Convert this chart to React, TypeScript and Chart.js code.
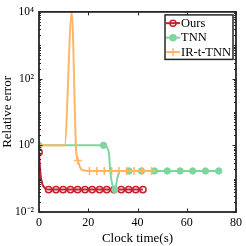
import React, { useEffect, useRef } from "react";
import { Chart, registerables } from "chart.js";

Chart.register(...registerables);

// ---- data ----
const seriesNames = ["Ours", "TNN", "IR-t-TNN"];

const oursX = [0, 0.25, 0.7, 1.4, 2.4, 3.9, 6.9, 9.8, 12.8, 15.7, 18.7, 21.6, 24.6, 27.5, 30.5, 33.4, 36.4, 39.3, 42.2];
const oursY = [0.62, 0.3, 0.12, 0.068, 0.052, 0.047, 0.047, 0.047, 0.047, 0.047, 0.047, 0.047, 0.047, 0.047, 0.047, 0.047, 0.047, 0.047, 0.047];
const oursMarkerIdx = [0, 5, 6, 7, 8, 9, 10, 11, 12, 13, 14, 15, 16, 17, 18];

const tnnX = [0, 26.2, 28.3, 29.0, 30.8, 31.9, 32.8, 36.5, 41.6, 46.9, 52.1, 57.3, 62.4, 67.6, 73.0];
const tnnY = [1.0, 1.0, 0.65, 0.15, 0.047, 0.11, 0.17, 0.17, 0.17, 0.17, 0.17, 0.17, 0.17, 0.17, 0.17];
const tnnMarkerIdx = [0, 1, 4, 7, 8, 9, 10, 11, 12, 13, 14];

const irX = [0, 10.4, 13.3, 15.1, 15.8, 16.8, 18.3, 20.5, 23.5, 26.5, 29.5, 32.5, 35.6, 38.6, 41.9, 45.7];
const irY = [1.0, 1.0, 9500, 0.65, 0.35, 0.21, 0.175, 0.17, 0.17, 0.17, 0.17, 0.17, 0.17, 0.17, 0.17, 0.17];
const irMarkerIdx = [0, 4, 7, 8, 9, 10, 11, 12, 13, 14, 15];

const xTicks = [0, 20, 40, 60, 80];
const yTicks = [0.01, 1, 100, 10000];
const yTickLabels = ["10⁻²", "10⁰", "10²", "10⁴"];
const xTitle = "Clock time(s)";
const yTitle = "Relative error";

const RED = "rgb(200,32,42)";
const GREEN = "rgb(128,212,160)";
const ORANGE = "rgb(255,182,102)";
const AXIS = "#262626";
const FONT = "'Liberation Serif', 'Times New Roman', serif";

function pts(xs: number[], ys: number[]) {
  return xs.map((x, i) => ({ x, y: ys[i] }));
}
function radii(n: number, idx: number[], r: number) {
  const a = new Array(n).fill(0);
  idx.forEach((i) => (a[i] = r));
  return a;
}

const framePlugin = {
  id: "frame",
  afterDatasetsDraw(chart: any) {
    const { ctx, chartArea: a, scales } = chart;
    const xs = scales.x;
    const ys = scales.y;
    ctx.save();
    ctx.strokeStyle = AXIS;
    ctx.lineWidth = 1;
    ctx.beginPath();
    xTicks.forEach((v) => {
      const px = Math.round(xs.getPixelForValue(v)) + 0.5;
      ctx.moveTo(px, a.bottom);
      ctx.lineTo(px, a.bottom - 3.5);
      ctx.moveTo(px, a.top);
      ctx.lineTo(px, a.top + 3.5);
    });
    for (let d = -2; d < 4; d++) {
      for (let k = 1; k <= 9; k++) {
        const v = k * Math.pow(10, d);
        const major = yTicks.some((t) => Math.abs(t - v) < 1e-9 * Math.max(1, v));
        const len = major ? 3.5 : 2;
        const py = Math.round(ys.getPixelForValue(v)) + 0.5;
        ctx.moveTo(a.left, py);
        ctx.lineTo(a.left + len, py);
        ctx.moveTo(a.right, py);
        ctx.lineTo(a.right - len, py);
      }
    }
    ctx.stroke();
    ctx.lineWidth = 1.8;
    ctx.strokeRect(a.left, a.top, a.right - a.left, a.bottom - a.top);
    ctx.restore();
  },
};

const legendPlugin = {
  id: "boxLegend",
  afterDraw(chart: any) {
    const { ctx, chartArea: a } = chart;
    ctx.save();
    ctx.font = `12.5px ${FONT}`;
    const labels = chart.data.datasets.map((d: any) => d.label);
    const textW = Math.max(...labels.map((t: string) => ctx.measureText(t).width));
    const sample = 14;
    const w = 1 + sample + 1 + textW + 2;
    const rowH = 14.5;
    const h = rowH * labels.length + 1;
    const right = a.right - 3;
    const left = right - w;
    const top = a.top + 3;
    ctx.fillStyle = "#fff";
    ctx.fillRect(left, top, w, h);
    chart.data.datasets.forEach((d: any, i: number) => {
      const cy = top + 1 + rowH * (i + 0.5);
      const x0 = left + 1;
      ctx.strokeStyle = d.borderColor;
      ctx.lineWidth = 2;
      ctx.beginPath();
      ctx.moveTo(x0, cy);
      ctx.lineTo(x0 + sample, cy);
      ctx.stroke();
      const cx = x0 + sample / 2;
      ctx.lineWidth = 1.5;
      if (d.pointStyle === "cross") {
        ctx.beginPath();
        ctx.moveTo(cx - 4, cy);
        ctx.lineTo(cx + 4, cy);
        ctx.moveTo(cx, cy - 4);
        ctx.lineTo(cx, cy + 4);
        ctx.stroke();
      } else {
        ctx.beginPath();
        ctx.arc(cx, cy, 3, 0, Math.PI * 2);
        if (d.pointBackgroundColor && d.pointBackgroundColor !== "rgba(0,0,0,0)") {
          ctx.fillStyle = d.pointBackgroundColor;
          ctx.fill();
        }
        ctx.stroke();
      }
      ctx.fillStyle = "#000";
      ctx.textBaseline = "middle";
      ctx.textAlign = "left";
      ctx.fillText(d.label, x0 + sample + 1, cy + 0.5);
    });
    ctx.strokeStyle = AXIS;
    ctx.lineWidth = 1.5;
    ctx.strokeRect(left, top, w, h);
    ctx.restore();
  },
};

export default function App() {
  const ref = useRef<HTMLCanvasElement | null>(null);
  useEffect(() => {
    if (!ref.current) return;
    const chart = new Chart(ref.current, {
      type: "line",
      data: {
        datasets: [
          {
            label: seriesNames[0],
            data: pts(oursX, oursY),
            borderColor: RED,
            borderWidth: 2,
            pointStyle: "circle",
            pointRadius: radii(oursX.length, oursMarkerIdx, 3.2),
            pointBorderWidth: 1.5,
            pointBorderColor: RED,
            pointBackgroundColor: "rgba(0,0,0,0)",
            cubicInterpolationMode: "monotone",
            order: 3,
          },
          {
            label: seriesNames[1],
            data: pts(tnnX, tnnY),
            borderColor: GREEN,
            borderWidth: 2,
            pointStyle: "circle",
            pointRadius: radii(tnnX.length, tnnMarkerIdx, 3.2),
            pointBorderWidth: 1,
            pointBorderColor: GREEN,
            pointBackgroundColor: GREEN,
            cubicInterpolationMode: "monotone",
            order: 2,
          },
          {
            label: seriesNames[2],
            data: pts(irX, irY),
            borderColor: ORANGE,
            borderWidth: 2,
            pointStyle: "cross",
            pointRadius: radii(irX.length, irMarkerIdx, 4),
            pointBorderWidth: 1.5,
            pointBorderColor: ORANGE,
            pointBackgroundColor: ORANGE,
            cubicInterpolationMode: "monotone",
            order: 1,
          },
        ],
      },
      options: {
        responsive: false,
        animation: false,
        devicePixelRatio: 1,
        layout: { padding: { left: 0, right: 8, top: 7, bottom: 0 } },
        plugins: { legend: { display: false }, tooltip: { enabled: false } },
        scales: {
          x: {
            type: "linear",
            min: 0,
            max: 80,
            grid: { display: false, drawTicks: false },
            border: { display: false },
            afterBuildTicks: (s: any) => {
              s.ticks = xTicks.map((v) => ({ value: v }));
            },
            afterFit: (s: any) => {
              s.height = 34;
            },
            ticks: {
              color: "#000",
              font: { family: FONT, size: 12 },
              padding: 4,
              maxRotation: 0,
              autoSkip: false,
            },
            title: {
              display: true,
              text: xTitle,
              color: "#000",
              font: { family: FONT, size: 13 },
              padding: { top: 0, bottom: 0 },
            },
          },
          y: {
            type: "logarithmic",
            min: 0.01,
            max: 10000,
            grid: { display: false, drawTicks: false },
            border: { display: false },
            afterBuildTicks: (s: any) => {
              s.ticks = yTicks.map((v) => ({ value: v }));
            },
            afterFit: (s: any) => {
              s.width = 39;
            },
            ticks: {
              color: "#000",
              font: { family: FONT, size: 11.5 },
              padding: 5,
              autoSkip: false,
              callback: (v: any) => {
                const i = yTicks.findIndex((t) => Math.abs(t - Number(v)) < 1e-9 * Math.max(1, t));
                return i >= 0 ? yTickLabels[i] : "";
              },
            },
            title: {
              display: true,
              text: yTitle,
              color: "#000",
              font: { family: FONT, size: 13 },
              padding: { top: 0, bottom: 0 },
            },
          },
        },
      },
      plugins: [framePlugin, legendPlugin],
    } as any);
    return () => chart.destroy();
  }, []);
  return (
    <div style={{ position: "absolute", left: 0, top: 0, width: 246, height: 246, background: "#fff" }}>
      <canvas ref={ref} width={246} height={246} />
    </div>
  );
}
